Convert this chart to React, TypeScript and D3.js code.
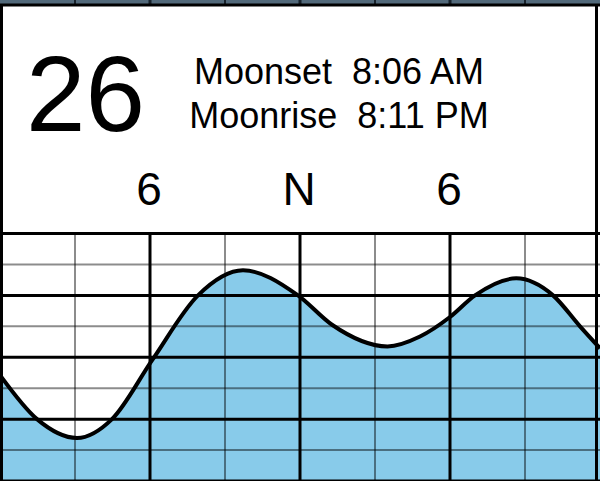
import React from "react";
import * as d3 from "d3";

// ---- data ----
const dayLabel = "26";
const moonLines = ["Moonset  8:06 AM", "Moonrise  8:11 PM"];
const tickHours = [6, 12, 18];
const tickLabels = ["6", "N", "6"];

// tide curve: hour of day -> height (grid units)
const hours = [0, 1.48, 3.08, 4.48, 6.08, 7.92, 9.72, 11.92, 13.28, 15.5, 16.8, 18.0, 19.0, 20.65, 22.12, 23.2, 24];
const heights = [3.42, 2.0, 1.39, 2.0, 3.9, 6.0, 6.81, 6.0, 5.05, 4.35, 4.67, 5.3, 6.0, 6.55, 6.0, 5.0, 4.29];

const gridHours = d3.range(0, 25, 3);
const gridLevels = d3.range(0, 9, 1);

const W = 600;
const H = 481;

export default function App() {
  const x = d3.scaleLinear().domain([0, 24]).range([0, 600]);
  const y = d3.scaleLinear().domain([0, 8]).range([481, 233.5]);

  const pts: [number, number][] = hours.map((h, i) => [h, heights[i]]);
  const curve = d3.curveMonotoneX;
  const area = d3
    .area<[number, number]>()
    .x((d) => x(d[0]))
    .y0(y(0) + 5)
    .y1((d) => y(d[1]))
    .curve(curve);
  const line = d3
    .line<[number, number]>()
    .x((d) => x(d[0]))
    .y((d) => y(d[1]))
    .curve(curve);

  const font = "'Liberation Sans', Arial, Helvetica, sans-serif";

  return (
    <svg
      width={W}
      height={H}
      viewBox={`0 0 ${W} ${H}`}
      style={{ position: "absolute", left: 0, top: 0, display: "block" }}
    >
      {/* strip of previous cell at the top */}
      <rect x={0} y={0} width={W} height={5} fill="#52697a" />
      {gridHours.filter((h) => h > 0 && h < 24).map((h) => (
        <line key={"t" + h} x1={x(h)} x2={x(h)} y1={0} y2={5} stroke="#17222b" strokeWidth={h % 6 === 0 ? 3 : 2} />
      ))}

      {/* header box */}
      <rect x={0} y={4} width={W} height={230} fill="#ffffff" />

      {/* chart background */}
      <rect x={0} y={233} width={W} height={H - 233} fill="#ffffff" />
      <path d={area(pts) || ""} fill="#88cbea" />

      {/* grid */}
      {gridLevels.map((v) => (
        <line
          key={"h" + v}
          x1={0}
          x2={W}
          y1={y(v)}
          y2={y(v)}
          stroke={v % 2 === 0 ? "#000" : "rgba(0,0,0,0.45)"}
          strokeWidth={v % 2 === 0 ? 3 : 2}
        />
      ))}
      {gridHours.filter((h) => h > 0 && h < 24).map((h) => (
        <line
          key={"v" + h}
          x1={x(h)}
          x2={x(h)}
          y1={233}
          y2={H}
          stroke={h % 6 === 0 ? "#000" : "rgba(0,0,0,0.45)"}
          strokeWidth={h % 6 === 0 ? 3 : 2}
        />
      ))}

      {/* tide line */}
      <path d={line(pts) || ""} fill="none" stroke="#000" strokeWidth={4} strokeLinejoin="round" />

      {/* frame */}
      <line x1={0} x2={W} y1={5} y2={5} stroke="#000" strokeWidth={3} />
      <line x1={1.5} x2={1.5} y1={4} y2={H} stroke="#000" strokeWidth={3} />
      <line x1={596.5} x2={596.5} y1={4} y2={H} stroke="#000" strokeWidth={3} />

      {/* header text */}
      <text x={85.5} y={131} textAnchor="middle" fontFamily={font} fontSize={107} fill="#000">
        {dayLabel}
      </text>
      {moonLines.map((t, i) => (
        <text
          key={t}
          x={339}
          y={84 + i * 44}
          textAnchor="middle"
          fontFamily={font}
          fontSize={36}
          fill="#000"
          style={{ whiteSpace: "pre" }}
        >
          {t}
        </text>
      ))}
      {tickHours.map((h, i) => (
        <text key={"l" + i} x={x(h) - 1} y={205} textAnchor="middle" fontFamily={font} fontSize={46} fill="#000">
          {tickLabels[i]}
        </text>
      ))}
    </svg>
  );
}
